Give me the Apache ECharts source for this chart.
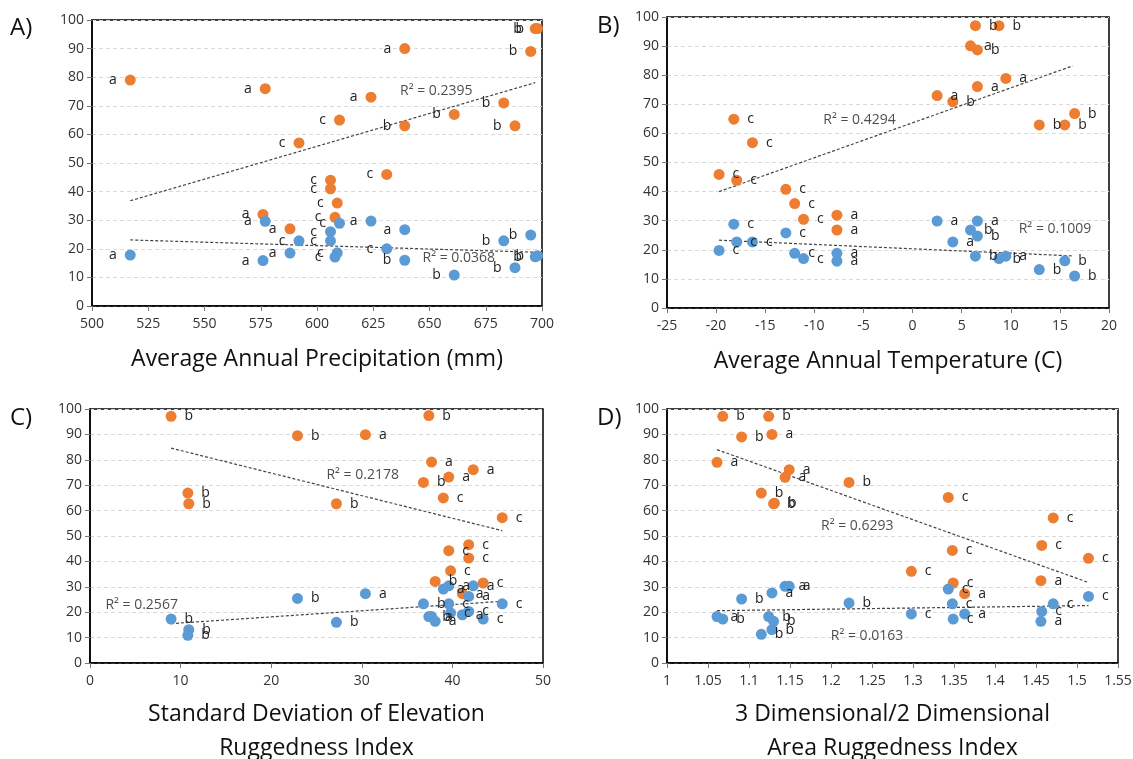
<!DOCTYPE html>
<html>
<head>
<meta charset="utf-8">
<script src="https://cdn.jsdelivr.net/npm/echarts@6/dist/echarts.min.js"></script>
<style>
html,body{margin:0;padding:0;background:#fff;}
#chart{width:1133px;height:759px;}
</style>
</head>
<body>
<div id="chart"></div>
<script>
// ---------- DATA ----------
// Panel A: Average Annual Precipitation (mm)
const precipOrange = [[517,79,'a'],[577,76,'a'],[592,57,'c'],[576,32,'a'],[588,27,'a'],[697,97,'b'],[698,97,'b'],[695,89,'b'],[639,90,'a'],[624,73,'a'],[610,65,'c'],[661,67,'b'],[639,63,'b'],[683,71,'b'],[688,63,'b'],[631,46,'c'],[606,44,'c'],[606,41,'c'],[609,36,'c'],[608,31,'c']];
const precipBlue = [[517,17.8,'a'],[577,29.6,'a'],[576,15.9,'a'],[588,18.5,'a'],[592,22.8,'c'],[624,29.7,'a'],[610,28.9,'c'],[606,26,'c'],[606,22.8,'c'],[609,18.6,'c'],[608,17.1,'c'],[631,20,'c'],[639,26.7,'a'],[639,16,'b'],[661,10.8,'b'],[683,22.8,'b'],[695,24.8,'b'],[697,17.2,'b'],[698,17.6,'b'],[688,13.4,'b']];
const precipTrendOrange = [[517,36.8],[697,78.1]];
const precipTrendBlue = [[517,23.1],[697,18.8]];
const precipR2 = ['R² = 0.2395','R² = 0.0368'];

// Panel B: Average Annual Temperature (C)
const tempOrange = [[-18.2,64.9,'c'],[-16.3,56.8,'c'],[-19.7,45.9,'c'],[-17.9,43.9,'c'],[-12.9,40.8,'c'],[-12.0,35.9,'c'],[-11.1,30.5,'c'],[-7.7,31.9,'a'],[-7.7,26.8,'a'],[6.4,97,'b'],[8.8,97,'b'],[5.9,90.1,'a'],[6.6,88.7,'b'],[9.5,78.9,'a'],[6.6,76.1,'a'],[2.5,73,'a'],[4.1,70.9,'b'],[12.9,62.9,'b'],[15.5,62.9,'b'],[16.5,66.8,'b']];
const tempBlue = [[-18.2,28.8,'c'],[-17.9,22.7,'c'],[-16.3,22.7,'c'],[-19.7,19.8,'c'],[-12.9,25.8,'c'],[-12.0,18.8,'c'],[-11.1,17,'c'],[-7.7,18.8,'a'],[-7.7,16.1,'a'],[2.5,29.9,'a'],[6.6,29.9,'a'],[5.9,26.8,'b'],[6.6,24.7,'b'],[4.1,22.7,'a'],[6.4,17.8,'b'],[8.8,17,'b'],[9.5,17.8,'a'],[12.9,13.2,'b'],[15.5,16.2,'b'],[16.5,11,'b']];
const tempTrendOrange = [[-19.7,40.0],[16.3,83.2]];
const tempTrendBlue = [[-19.7,23.3],[16.3,17.9]];
const tempR2 = ['R² = 0.4294','R² = 0.1009'];

// Panel C: Standard Deviation of Elevation Ruggedness Index
const sdOrange = [[8.95,97.1,'b'],[22.9,89.5,'b'],[10.8,66.9,'b'],[10.9,62.7,'b'],[37.4,97.4,'b'],[30.4,89.9,'a'],[27.2,62.7,'b'],[37.7,79.1,'a'],[42.3,76.1,'a'],[39.6,73.2,'a'],[36.8,71.1,'b'],[39.0,65,'c'],[45.5,57.2,'c'],[39.6,44.2,'c'],[41.8,46.6,'c'],[41.8,41.3,'c'],[39.8,36.3,'c'],[38.1,32.1,'b'],[43.4,31.5,'c'],[41.1,27.3,'a']];
const sdBlue = [[8.95,17.3,'b'],[10.9,13.1,'b'],[10.8,10.9,'b'],[22.9,25.4,'b'],[30.4,27.3,'a'],[27.2,16,'b'],[36.8,23.3,'b'],[37.4,18.3,'b'],[38.1,16.4,'a'],[37.7,18.3,'a'],[39.0,29.1,'a'],[39.6,30.4,'a'],[39.6,23.3,'c'],[39.8,19.7,'c'],[41.1,19,'a'],[41.8,20.3,'c'],[42.3,30.4,'a'],[41.8,26.2,'a'],[43.4,17.3,'c'],[45.5,23.3,'c']];
const sdTrendOrange = [[8.95,84.6],[45.5,52.1]];
const sdTrendBlue = [[8.95,15.5],[45.5,24.3]];
const sdR2 = ['R² = 0.2178','R² = 0.2567'];

// Panel D: 3D/2D Area Ruggedness Index
const areaOrange = [[1.068,97.1,'b'],[1.124,97.1,'b'],[1.091,89,'b'],[1.128,90,'a'],[1.061,79,'a'],[1.149,76.1,'a'],[1.144,73.1,'a'],[1.115,66.9,'b'],[1.130,62.7,'b'],[1.131,62.9,'b'],[1.222,71.1,'b'],[1.343,65.2,'c'],[1.471,57.1,'c'],[1.348,44.3,'c'],[1.457,46.3,'c'],[1.514,41.2,'c'],[1.298,36.1,'c'],[1.349,31.5,'c'],[1.363,27.3,'a'],[1.456,32.4,'a']];
const areaBlue = [[1.061,18.3,'a'],[1.068,17.3,'b'],[1.091,25.2,'b'],[1.115,11.3,'b'],[1.124,18.3,'b'],[1.130,16.4,'b'],[1.128,13.1,'b'],[1.128,27.6,'a'],[1.144,30.2,'a'],[1.149,30.2,'a'],[1.222,23.6,'b'],[1.343,29.1,'c'],[1.348,23.3,'c'],[1.298,19.3,'c'],[1.349,17.3,'c'],[1.363,19.3,'a'],[1.471,23.3,'c'],[1.457,20.3,'c'],[1.456,16.4,'a'],[1.514,26.2,'c']];
const areaTrendOrange = [[1.061,84.0],[1.514,31.7]];
const areaTrendBlue = [[1.061,20.6],[1.514,22.6]];
const areaR2 = ['R² = 0.6293','R² = 0.0163'];

const panelLetters = ['A)','B)','C)','D)'];
const axisTitles = ['Average Annual Precipitation (mm)','Average Annual Temperature (C)','Standard Deviation of Elevation\nRuggedness Index','3 Dimensional/2 Dimensional\nArea Ruggedness Index'];

// ---------- CHART ----------
const FONT = '"Open Sans", "Noto Sans", sans-serif';
const ORANGE = '#ED7D31', BLUE = '#5B9BD5';
const chart = echarts.init(document.getElementById('chart'));

const grids = [
  {left:92, top:20, width:450, height:286},
  {left:667, top:17, width:442, height:291},
  {left:90, top:409, width:453, height:254},
  {left:667, top:409, width:451, height:254}
];
const xDefs = [
  {min:500,max:700,interval:25},
  {min:-25,max:20,interval:5},
  {min:0,max:50,interval:10},
  {min:1,max:1.55,interval:0.05}
];
// label anchor points for R² texts (data coords) - layout settings
const r2Anchors = [
  [[653,75.2],[663,16.8]],
  [[-5.4,64.6],[14.5,27.1]],
  [[30.1,74.1],[5.7,23.0]],
  [[1.232,54.0],[1.244,10.7]]
];
const labelSide = ['left','right','right','right'];
const panels = [
  [precipOrange, precipBlue, precipTrendOrange, precipTrendBlue, precipR2],
  [tempOrange, tempBlue, tempTrendOrange, tempTrendBlue, tempR2],
  [sdOrange, sdBlue, sdTrendOrange, sdTrendBlue, sdR2],
  [areaOrange, areaBlue, areaTrendOrange, areaTrendBlue, areaR2]
];

const xAxes = xDefs.map((d,i)=>({
  type:'value', gridIndex:i, min:d.min, max:d.max, interval:d.interval,
  axisLine:{show:true, onZero:false, lineStyle:{color:'#000', width:1.5}},
  axisTick:{show:true, inside:false, length:5, lineStyle:{color:'#777'}},
  axisLabel:{fontFamily:FONT, fontSize:14, color:'#333', margin:11},
  splitLine:{show:false},
  name: axisTitles[i], nameLocation:'middle', nameGap: i<2 ? 36 : 34,
  nameTextStyle:{fontFamily:FONT, fontSize:23, color:'#111', lineHeight:34, verticalAlign:'top'}
}));
const yAxes = grids.map((g,i)=>({
  type:'value', gridIndex:i, min:0, max:100, interval:10,
  axisLine:{show:true, onZero:false, lineStyle:{color:'#000', width:1.5}},
  axisTick:{show:true, inside:false, length:5, lineStyle:{color:'#777'}},
  axisLabel:{fontFamily:FONT, fontSize:14, color:'#333', margin:8},
  splitLine:{show:true, lineStyle:{color:'#d9d9d9', type:[4,3], width:1}}
}));

const series = [];
panels.forEach((p,i)=>{
  const [orange, blue, tOr, tBl, r2] = p;
  [[tOr],[tBl]].forEach(([t])=>{
    series.push({type:'line', xAxisIndex:i, yAxisIndex:i, data:t, symbol:'none', silent:true, z:1,
      lineStyle:{color:'#444', width:1.2, type:[3,2]}});
  });
  [[orange,ORANGE],[blue,BLUE]].forEach(([d,c])=>{
    series.push({type:'scatter', xAxisIndex:i, yAxisIndex:i, data:d, symbolSize:11, z:3,
      itemStyle:{color:c, opacity:1},
      label:{show:true, position:labelSide[i], distance:8, formatter:q=>q.value[2],
        fontFamily:FONT, fontSize:14, color:'#222'}});
  });
  series.push({type:'scatter', xAxisIndex:i, yAxisIndex:i, symbolSize:0, silent:true, z:4,
    data: r2.map((txt,k)=>[r2Anchors[i][k][0], r2Anchors[i][k][1], txt]),
    label:{show:true, position:'inside', formatter:q=>q.value[2], fontFamily:FONT, fontSize:14, color:'#222'}});
});

const letterPos = [[10,16],[597,14],[10,406],[597,406]];
chart.setOption({
  animation:false,
  backgroundColor:'#fff',
  grid: grids.map(g=>Object.assign({show:true, borderColor:'#000', borderWidth:1.5, backgroundColor:'transparent',
    containLabel:false, outerBoundsMode:'none'}, g)),
  xAxis:xAxes, yAxis:yAxes, series,
  graphic: panelLetters.map((t,i)=>({type:'text', left:letterPos[i][0], top:letterPos[i][1],
    style:{text:t, fontFamily:FONT, fontSize:24, fill:'#111'}}))
});
</script>
</body>
</html>
